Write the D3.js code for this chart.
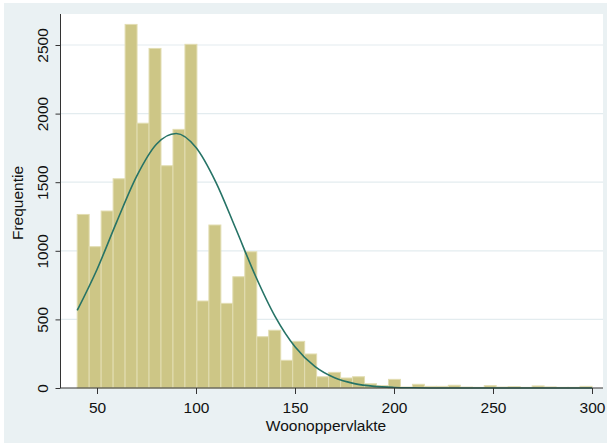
<!DOCTYPE html>
<html><head><meta charset="utf-8">
<script src="https://cdn.jsdelivr.net/npm/d3@7"></script>
<style>body{margin:0;background:#fff}svg{display:block}text{font-family:"Liberation Sans",Arial,sans-serif}</style>
</head><body>
<svg id="c" width="610" height="446"></svg>
<script>
// ---- data ----
const binMin = 40, binMax = 300;
const counts = [1265,1030,1290,1525,2650,1930,2475,1620,1885,2505,
                634,1188,617,811,993,374,421,202,340,248,
                82,114,73,82,31,17,63,7,27,12,
                12,20,7,5,17,7,10,5,15,8,
                5,5,12];
const curveX = [40,50,60,70,80,90,100,110,120,130,140,150,160,170,180,190,200,210,220,230,240,260,280,300];
const curveY = [565,864,1213,1543,1777,1855,1753,1501,1164,818,520,300,157,74,32,12,4,1.3,0.4,0,0,0,0,0];
const xTicks = [50,100,150,200,250,300];
const yTicks = [0,500,1000,1500,2000,2500];
const xTitle = "Woonoppervlakte", yTitle = "Frequentie";

// ---- layout ----
const svg = d3.select("#c");
const plot = {l:60.5, r:603, t:14, b:388};
const x = d3.scaleLinear().domain([50,300]).range([97,592]);
const y = d3.scaleLinear().domain([0,2500]).range([388,45]);
const fontSize = "15.5px";
const fmt = d3.format("d");

svg.append("rect").attr("x",4).attr("y",3).attr("width",603).attr("height",440).attr("fill","#eaf1f3");
svg.append("rect").attr("x",plot.l).attr("y",plot.t).attr("width",plot.r-plot.l).attr("height",plot.b-plot.t).attr("fill","#ffffff");

// gridlines
svg.append("g").selectAll("line").data(yTicks.filter(d=>d>0)).join("line")
  .attr("x1",plot.l).attr("x2",plot.r).attr("y1",d=>y(d)).attr("y2",d=>y(d))
  .attr("stroke","#e3ecef").attr("stroke-width",1.2);

// bars
const bw = (binMax-binMin)/counts.length;
svg.append("g").selectAll("rect").data(counts).join("rect")
  .attr("x",(d,i)=>x(binMin+i*bw))
  .attr("width",(d,i)=>x(binMin+(i+1)*bw)-x(binMin+i*bw))
  .attr("y",d=>y(d)).attr("height",d=>y(0)-y(d))
  .attr("fill","#cdc686").attr("stroke","#e2ddb2").attr("stroke-width",1);

// normal curve
const pts = curveX.map((v,i)=>[v,curveY[i]]);
svg.append("path").datum(pts)
  .attr("d",d3.line().x(d=>x(d[0])).y(d=>y(d[1])).curve(d3.curveMonotoneX))
  .attr("fill","none").attr("stroke","#267366").attr("stroke-width",1.6);

// axes
const ya = svg.append("g").attr("transform",`translate(${plot.l},0)`)
  .call(d3.axisLeft(y).tickValues(yTicks).tickFormat(fmt).tickSize(5).tickPadding(0).tickSizeOuter(0));
ya.select(".domain").remove();
ya.selectAll(".tick line").attr("stroke","#333");
ya.selectAll(".tick text").attr("x",null).attr("dy",null)
  .attr("transform","translate(-12.5,0) rotate(-90)").attr("text-anchor","middle")
  .attr("font-size",fontSize).attr("fill","#111").style("font-family","'Liberation Sans',Arial,sans-serif");

const xa = svg.append("g").attr("transform",`translate(0,${plot.b})`)
  .call(d3.axisBottom(x).tickValues(xTicks).tickFormat(fmt).tickSize(6).tickSizeOuter(0));
xa.select(".domain").remove();
xa.selectAll(".tick line").attr("stroke","#333");
xa.selectAll(".tick text").attr("y",25).attr("dy",null)
  .attr("font-size",fontSize).attr("fill","#111").style("font-family","'Liberation Sans',Arial,sans-serif");

svg.append("line").attr("x1",plot.l).attr("x2",plot.l).attr("y1",plot.t).attr("y2",plot.b).attr("stroke","#333").attr("stroke-width",1);
svg.append("line").attr("x1",plot.l).attr("x2",plot.r).attr("y1",plot.b).attr("y2",plot.b).attr("stroke","#333").attr("stroke-width",1);

svg.append("text").attr("x",326).attr("y",431).attr("text-anchor","middle")
  .attr("font-size",fontSize).attr("fill","#111").text(xTitle);
svg.append("text").attr("transform",`translate(23,${(plot.t+plot.b)/2+2}) rotate(-90)`).attr("text-anchor","middle")
  .attr("font-size",fontSize).attr("fill","#111").text(yTitle);
</script>
</body></html>
